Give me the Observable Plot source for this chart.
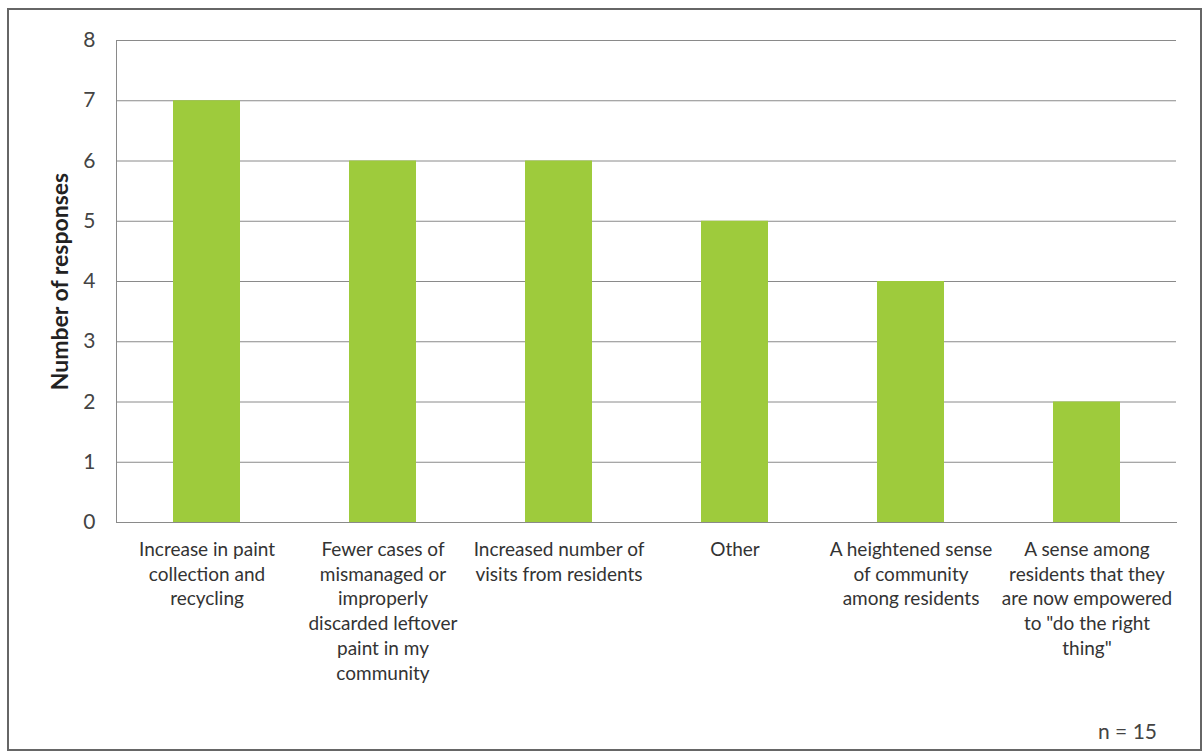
<!DOCTYPE html>
<html>
<head>
<meta charset="utf-8">
<script src="https://cdn.jsdelivr.net/npm/d3@7"></script>
<script src="https://cdn.jsdelivr.net/npm/@observablehq/plot@0.6"></script>
<style>
  html, body { margin: 0; padding: 0; background: #fff; }
  #wrap { position: relative; width: 1203px; height: 754px; overflow: hidden; font-family: Lato, "Open Sans", sans-serif; }
  #border { position: absolute; left: 7px; top: 8px; width: 1191px; height: 739px; border: 2px solid #666; box-sizing: content-box; pointer-events: none; }
  #chart { position: absolute; left: 0; top: 0; }
  #note { position: absolute; right: 46px; top: 718px; font-size: 21px; color: #444; font-family: Lato, sans-serif; }
</style>
</head>
<body>
<div id="wrap">
  <div id="chart"></div>
  <div id="border"></div>
  <div id="note">n = 15</div>
</div>
<script>
const categories = [
  "Increase in paint collection and recycling",
  "Fewer cases of mismanaged or improperly discarded leftover paint in my community",
  "Increased number of visits from residents",
  "Other",
  "A heightened sense of community among residents",
  "A sense among residents that they are now empowered to \"do the right thing\""
];
const wrappedLabels = [
  "Increase in paint\ncollection and\nrecycling",
  "Fewer cases of\nmismanaged or\nimproperly\ndiscarded leftover\npaint in my\ncommunity",
  "Increased number of\nvisits from residents",
  "Other",
  "A heightened sense\nof community\namong residents",
  "A sense among\nresidents that they\nare now empowered\nto \"do the right\nthing\""
];
const responses = [7, 6, 6, 5, 4, 2];
const yTicks = [0, 1, 2, 3, 4, 5, 6, 7, 8];
const yLabel = "Number of responses";

const data = categories.map((c, i) => ({category: c, label: wrappedLabels[i], value: responses[i]}));

const chart = Plot.plot({
  width: 1203,
  height: 754,
  marginTop: 40,
  marginBottom: 232,
  marginLeft: 116,
  marginRight: 27,
  style: {fontFamily: "Lato, 'Open Sans', sans-serif", background: "transparent"},
  x: {domain: categories, paddingInner: 0.62, paddingOuter: 0.31, axis: null},
  y: {domain: [0, 8], axis: null},
  marks: [
    Plot.gridY(yTicks, {stroke: "#8a8a8a", strokeOpacity: 1, strokeWidth: 1}),
    Plot.axisY(yTicks, {tickSize: 0, tickPadding: 21, fontSize: 21, fill: "#444", label: null, tickFormat: d3.format("d")}),
    Plot.barY(data, {x: "category", y: "value", fill: "#9ecb3c"}),
    Plot.frame({anchor: "left", stroke: "#8a8a8a"}),
    Plot.frame({anchor: "bottom", stroke: "#8a8a8a"}),
    Plot.text(data, {x: "category", y: 0, text: "label", dy: 16, lineAnchor: "top", lineHeight: 1.3, fontSize: 19, fill: "#333"}),
    Plot.text([yLabel], {frameAnchor: "left", textAnchor: "middle", rotate: -90, dx: -56, text: d => d, fontSize: 23, fontWeight: "bold", fill: "#222"})
  ]
});
document.getElementById("chart").appendChild(chart);
</script>
</body>
</html>
